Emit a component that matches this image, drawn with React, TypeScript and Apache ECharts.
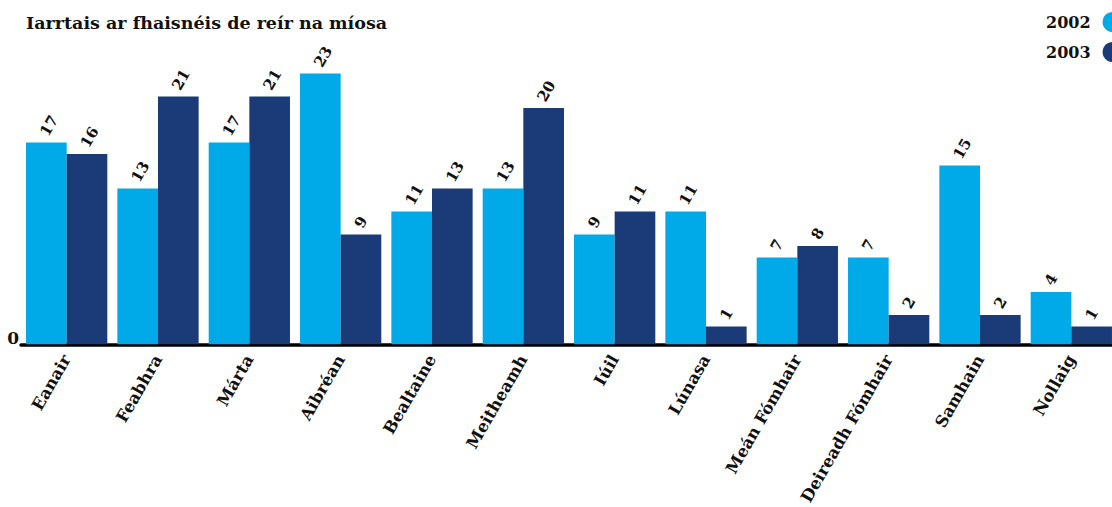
import React, { useEffect, useRef } from "react";
import * as echarts from "echarts";

const TITLE = "Iarrtais ar fhaisnéis de reír na míosa";
const months = [
  "Eanair",
  "Feabhra",
  "Márta",
  "Aibréan",
  "Bealtaine",
  "Meitheamh",
  "Iúil",
  "Lúnasa",
  "Meán Fómhair",
  "Deireadh Fómhair",
  "Samhain",
  "Nollaig",
];
const series2002 = [17, 13, 17, 23, 11, 13, 9, 11, 7, 7, 15, 4];
const series2003 = [16, 21, 21, 9, 13, 20, 11, 1, 8, 2, 2, 1];
const seriesNames = ["2002", "2003"];
const colors = ["#00a9e8", "#1b3a78"];

const FONT = "'DejaVu Serif', serif";

export default function App() {
  const ref = useRef<HTMLDivElement>(null);
  useEffect(() => {
    if (!ref.current) return;
    const chart = echarts.init(ref.current, null, { renderer: "svg" });
    const valueLabel = {
      show: true,
      position: "top",
      rotate: 60,
      align: "left",
      verticalAlign: "middle",
      distance: 12,
      offset: [-5, 0],
      fontFamily: FONT,
      fontWeight: "bold",
      fontSize: 15,
      color: "#111",
    };
    chart.setOption({
      animation: false,
      title: {
        text: TITLE,
        left: 26,
        top: 14,
        padding: 0,
        textStyle: {
          fontFamily: FONT,
          fontWeight: "bold",
          fontSize: 17.5,
          color: "#111",
        },
      },
      legend: {
        orient: "vertical",
        left: 1041,
        top: 7,
        align: "right",
        itemWidth: 20,
        itemHeight: 20,
        itemGap: 10,
        icon: "circle",
        data: seriesNames,
        textStyle: {
          fontFamily: FONT,
          fontWeight: "bold",
          fontSize: 16,
          color: "#111",
          padding: [0, 7, 0, 0],
        },
      },
      grid: {
        left: 21,
        width: 1096,
        top: 50.5,
        bottom: 162.75,
        containLabel: false,
        outerBoundsMode: "none",
      },
      xAxis: {
        type: "category",
        data: months,
        axisLine: { onZero: false, lineStyle: { color: "#000", width: 3.5 } },
        axisTick: { show: false },
        axisLabel: {
          rotate: 60,
          interval: 0,
          margin: 12,
          padding: [0, 0, 8, 0],
          fontFamily: FONT,
          fontWeight: "bold",
          fontSize: 16.5,
          color: "#111",
        },
      },
      yAxis: {
        type: "value",
        min: -0.54,
        max: 25,
        startValue: -0.54,
        splitLine: { show: false },
        axisLine: { show: false },
        axisTick: { show: false },
        axisLabel: {
          showMinLabel: false,
          showMaxLabel: false,
          margin: 2,
          fontFamily: FONT,
          fontWeight: "bold",
          fontSize: 17,
          color: "#111",
          formatter: (v: number) => (v === 0 ? "0" : ""),
        },
      },
      series: [
        {
          name: seriesNames[0],
          type: "bar",
          data: series2002,
          itemStyle: { color: colors[0] },
          barGap: "0%",
          barCategoryGap: "11%",
          label: valueLabel,
        },
        {
          name: seriesNames[1],
          type: "bar",
          data: series2003,
          itemStyle: { color: colors[1] },
          barGap: "0%",
          barCategoryGap: "11%",
          label: valueLabel,
        },
      ],
    });
    return () => chart.dispose();
  }, []);
  return (
    <div
      ref={ref}
      style={{ position: "absolute", left: 0, top: 0, width: 1112, height: 507 }}
    />
  );
}
